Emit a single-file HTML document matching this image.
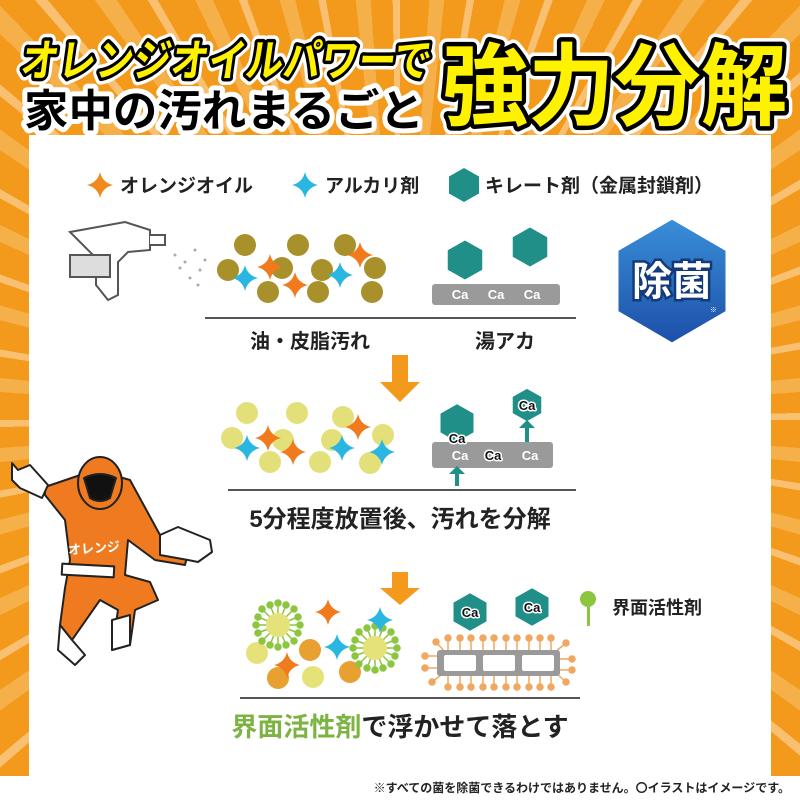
<!DOCTYPE html>
<html><head><meta charset="utf-8"><style>
body{margin:0;width:800px;height:800px;overflow:hidden;font-family:"Liberation Sans","Noto Sans CJK JP",sans-serif}
#bg{position:absolute;left:0;top:0;width:800px;height:800px;background:repeating-conic-gradient(from 0deg at 400px 420px,#f39a1c 0deg 4deg,#f6b04a 4deg 6deg,#f39a1c 6deg 9deg,#f8c070 9deg 10deg)}
svg{position:absolute;left:0;top:0}
text{font-family:"Liberation Sans","Noto Sans CJK JP",sans-serif;font-weight:bold}
</style></head><body>
<div id="bg"></div>
<svg width="800" height="800" viewBox="0 0 800 800">
<defs>
<path id="st" d="M0,-13 Q2.5,-2.5 13,0 Q2.5,2.5 0,13 Q-2.5,2.5 -13,0 Q-2.5,-2.5 0,-13Z"/>
<polygon id="hx" points="0,-17 15,-8.5 15,8.5 0,17 -15,8.5 -15,-8.5"/>
<g id="sf" fill="#8cc63f" stroke="#8cc63f" stroke-width="1.5">
<line x1="0" y1="-22" x2="0" y2="0"/><line x1="22" y1="0" x2="0" y2="0"/><line x1="0" y1="22" x2="0" y2="0"/><line x1="-22" y1="0" x2="0" y2="0"/>
<line x1="16" y1="16" x2="0" y2="0"/><line x1="-16" y1="16" x2="0" y2="0"/><line x1="16" y1="-16" x2="0" y2="0"/><line x1="-16" y1="-16" x2="0" y2="0"/>
<line x1="8" y1="-20" x2="0" y2="0"/><line x1="-8" y1="20" x2="0" y2="0"/><line x1="20" y1="8" x2="0" y2="0"/><line x1="-20" y1="-8" x2="0" y2="0"/>
<line x1="-8" y1="-20" x2="0" y2="0"/><line x1="8" y1="20" x2="0" y2="0"/><line x1="20" y1="-8" x2="0" y2="0"/><line x1="-20" y1="8" x2="0" y2="0"/>
<circle cx="0" cy="-22" r="3"/><circle cx="22" cy="0" r="3"/><circle cx="0" cy="22" r="3"/><circle cx="-22" cy="0" r="3"/>
<circle cx="16" cy="16" r="3"/><circle cx="-16" cy="16" r="3"/><circle cx="16" cy="-16" r="3"/><circle cx="-16" cy="-16" r="3"/>
<circle cx="8" cy="-20" r="3"/><circle cx="-8" cy="20" r="3"/><circle cx="20" cy="8" r="3"/><circle cx="-20" cy="-8" r="3"/>
<circle cx="-8" cy="-20" r="3"/><circle cx="8" cy="20" r="3"/><circle cx="20" cy="-8" r="3"/><circle cx="-20" cy="8" r="3"/>
<circle r="12" fill="#e6e27a" stroke="none"/></g>
<linearGradient id="bl" x1="0" y1="0" x2="0" y2="1"><stop offset="0" stop-color="#3a8fd8"/><stop offset="1" stop-color="#1c4fa8"/></linearGradient>
</defs>
<rect x="29" y="135" width="742" height="642" fill="#fff"/>
<rect x="0" y="776" width="800" height="24" fill="#fff"/>
<g font-size="44" stroke-linejoin="round">
<text x="22" y="76" transform="skewX(-8) translate(8,0)" fill="#000" stroke="#fff" stroke-width="14" textLength="410" lengthAdjust="spacingAndGlyphs">オレンジオイルパワーで</text>
<text x="22" y="76" transform="skewX(-8) translate(8,0)" fill="#fff200" stroke="#000" stroke-width="7" paint-order="stroke" textLength="410" lengthAdjust="spacingAndGlyphs">オレンジオイルパワーで</text>
<text x="24" y="126" fill="#000" stroke="#fff" stroke-width="10" paint-order="stroke" textLength="400" lengthAdjust="spacingAndGlyphs">家中の汚れまるごと</text>
<text x="442" y="118" font-size="90" fill="#000" stroke="#fff" stroke-width="16" textLength="345" lengthAdjust="spacingAndGlyphs">強力分解</text>
<text x="442" y="118" font-size="90" fill="#fff200" stroke="#000" stroke-width="9" paint-order="stroke" textLength="345" lengthAdjust="spacingAndGlyphs">強力分解</text>
</g>
<use href="#st" x="100" y="185" fill="#f08a1c"/>
<text x="120" y="192" font-size="19" fill="#222">オレンジオイル</text>
<use href="#st" x="305" y="185" fill="#29b6e0"/>
<text x="325" y="192" font-size="19" fill="#222">アルカリ剤</text>
<use href="#hx" x="464" y="185" fill="#1f8f88"/>
<text x="485" y="192" font-size="19" fill="#222">キレート剤（金属封鎖剤）</text>
<g stroke="#555" stroke-width="2" fill="#fff">
<path d="M70,232 L125,222 L150,230 L150,250 L128,252 L118,262 L118,295 L108,300 L96,285 L96,258 Z"/>
<rect x="70" y="255" width="40" height="22" fill="#ddd"/>
<path d="M150,235 L165,235 L165,245 L150,245"/>
</g>
<g fill="#aaa"><circle cx="175" cy="255" r="1.5"/><circle cx="185" cy="262" r="1.5"/><circle cx="195" cy="250" r="1.5"/><circle cx="200" cy="270" r="1.5"/><circle cx="190" cy="278" r="1.5"/><circle cx="205" cy="260" r="1.5"/><circle cx="180" cy="268" r="1.5"/><circle cx="198" cy="285" r="1.5"/></g>
<g fill="#a8902a"><circle cx="245" cy="245" r="11"/><circle cx="298" cy="245" r="11"/><circle cx="345" cy="245" r="11"/><circle cx="228" cy="270" r="11"/><circle cx="282" cy="268" r="11"/><circle cx="322" cy="270" r="11"/><circle cx="375" cy="268" r="11"/><circle cx="268" cy="292" r="11"/><circle cx="318" cy="292" r="11"/><circle cx="372" cy="292" r="11"/></g>
<use href="#st" x="270" y="267" fill="#f07a1c"/><use href="#st" x="295" y="285" fill="#f07a1c"/><use href="#st" x="360" y="255" fill="#f07a1c"/>
<use href="#st" x="245" y="278" fill="#29b6e0"/><use href="#st" x="340" y="275" fill="#29b6e0"/>
<rect x="432" y="284" width="128" height="21" rx="3" fill="#9a9a9a"/>
<g font-size="13" fill="#fff" text-anchor="middle"><text x="460" y="299">Ca</text><text x="496" y="299">Ca</text><text x="532" y="299">Ca</text></g>
<use href="#hx" transform="translate(465,260) scale(1.15)" fill="#1f8f88"/>
<use href="#hx" transform="translate(530,247) scale(1.15)" fill="#1f8f88"/>
<line x1="205" y1="318" x2="576" y2="318" stroke="#555" stroke-width="2"/>
<text x="310" y="348" font-size="20" text-anchor="middle" fill="#222">油・皮脂汚れ</text>
<text x="505" y="348" font-size="20" text-anchor="middle" fill="#222">湯アカ</text>
<polygon points="672,218 727,250 727,312 672,344 617,312 617,250" fill="url(#bl)" stroke="#fff" stroke-width="3"/>
<text x="672" y="295" font-size="40" text-anchor="middle" fill="#fff" stroke="#133a7a" stroke-width="5" paint-order="stroke">除菌</text>
<text x="710" y="312" font-size="7" fill="#fff">※</text>
<polygon points="392,355 408,355 408,382 420,382 400,402 380,382 392,382" fill="#f39a1c"/>
<polygon points="392,572 408,572 408,588 420,588 400,605 380,588 392,588" fill="#f39a1c"/>
<g fill="#e3e07a"><circle cx="247" cy="413" r="11"/><circle cx="297" cy="413" r="11"/><circle cx="343" cy="417" r="11"/><circle cx="232" cy="438" r="11"/><circle cx="283" cy="440" r="11"/><circle cx="332" cy="440" r="11"/><circle cx="383" cy="435" r="11"/><circle cx="270" cy="462" r="11"/><circle cx="320" cy="462" r="11"/><circle cx="370" cy="463" r="11"/></g>
<use href="#st" x="268" y="438" fill="#f07a1c"/><use href="#st" x="293" y="452" fill="#f07a1c"/><use href="#st" x="358" y="427" fill="#f07a1c"/>
<use href="#st" x="247" y="448" fill="#29b6e0"/><use href="#st" x="342" y="448" fill="#29b6e0"/><use href="#st" x="382" y="452" fill="#29b6e0"/>
<rect x="432" y="442" width="121" height="26" rx="3" fill="#9a9a9a"/>
<use href="#hx" transform="translate(457,423) scale(1.1)" fill="#1f8f88"/>
<use href="#hx" transform="translate(527,405) scale(0.95)" fill="#1f8f88"/>
<g fill="#1f8f88"><rect x="525" y="425" width="4" height="17"/><polygon points="519,428 535,428 527,420"/><rect x="455" y="470" width="4" height="16"/><polygon points="449,474 465,474 457,466"/></g>
<g font-size="13" text-anchor="middle" stroke-linejoin="round">
<text x="457" y="443" fill="#111" stroke="#fff" stroke-width="3" paint-order="stroke">Ca</text>
<text x="460" y="460" fill="#fff">Ca</text>
<text x="493" y="460" fill="#111" stroke="#fff" stroke-width="3" paint-order="stroke">Ca</text>
<text x="530" y="460" fill="#fff">Ca</text>
<text x="527" y="410" fill="#111" stroke="#fff" stroke-width="3" paint-order="stroke">Ca</text>
</g>
<line x1="228" y1="490" x2="576" y2="490" stroke="#555" stroke-width="2"/>
<text x="400" y="527" font-size="24" text-anchor="middle" fill="#222">5分程度放置後、汚れを分解</text>
<g fill="#e8a030"><circle cx="310" cy="650" r="11"/><circle cx="278" cy="678" r="11"/><circle cx="350" cy="672" r="11"/></g>
<g fill="#e6e27a"><circle cx="257" cy="653" r="11"/><circle cx="313" cy="677" r="11"/></g>
<use href="#sf" x="278" y="625"/><use href="#sf" x="375" y="648"/>
<use href="#st" x="328" y="612" fill="#f07a1c"/><use href="#st" x="287" y="665" fill="#f07a1c"/>
<use href="#st" x="337" y="647" fill="#29b6e0"/><use href="#st" x="380" y="620" fill="#29b6e0"/>
<g stroke="#f0a860" stroke-width="1.5" fill="#f0a860">
<line x1="448" y1="638" x2="448" y2="687"/><line x1="460" y1="638" x2="460" y2="687"/><line x1="471" y1="638" x2="471" y2="687"/><line x1="483" y1="638" x2="483" y2="687"/><line x1="494" y1="638" x2="494" y2="687"/><line x1="506" y1="638" x2="506" y2="687"/><line x1="517" y1="638" x2="517" y2="687"/><line x1="529" y1="638" x2="529" y2="687"/><line x1="540" y1="638" x2="540" y2="687"/><line x1="551" y1="638" x2="551" y2="687"/>
<line x1="425" y1="656" x2="445" y2="656"/><line x1="425" y1="668" x2="445" y2="668"/><line x1="552" y1="659" x2="572" y2="659"/><line x1="552" y1="670" x2="572" y2="670"/>
<line x1="432" y1="682" x2="445" y2="672"/><line x1="436" y1="642" x2="445" y2="652"/><line x1="566" y1="643" x2="555" y2="652"/><line x1="566" y1="682" x2="555" y2="672"/>
<circle cx="448" cy="638" r="3"/><circle cx="460" cy="638" r="3"/><circle cx="471" cy="638" r="3"/><circle cx="483" cy="638" r="3"/><circle cx="494" cy="638" r="3"/><circle cx="506" cy="638" r="3"/><circle cx="517" cy="638" r="3"/><circle cx="529" cy="638" r="3"/><circle cx="540" cy="638" r="3"/><circle cx="551" cy="638" r="3"/>
<circle cx="448" cy="687" r="3"/><circle cx="460" cy="687" r="3"/><circle cx="471" cy="687" r="3"/><circle cx="483" cy="687" r="3"/><circle cx="494" cy="687" r="3"/><circle cx="506" cy="687" r="3"/><circle cx="517" cy="687" r="3"/><circle cx="529" cy="687" r="3"/><circle cx="540" cy="687" r="3"/><circle cx="551" cy="687" r="3"/>
<circle cx="425" cy="656" r="3"/><circle cx="425" cy="668" r="3"/><circle cx="572" cy="659" r="3"/><circle cx="572" cy="670" r="3"/><circle cx="432" cy="682" r="3"/><circle cx="436" cy="642" r="3"/><circle cx="566" cy="643" r="3"/><circle cx="566" cy="682" r="3"/>
</g>
<rect x="437" y="650" width="123" height="26" rx="3" fill="#9a9a9a"/>
<g fill="#fff"><rect x="444" y="655" width="32" height="16" rx="2"/><rect x="483" y="655" width="32" height="16" rx="2"/><rect x="522" y="655" width="32" height="16" rx="2"/></g>
<use href="#hx" transform="translate(470,612) scale(1.1)" fill="#1f8f88"/>
<use href="#hx" transform="translate(532,607) scale(1.1)" fill="#1f8f88"/>
<g font-size="13" text-anchor="middle"><text x="470" y="617" fill="#111" stroke="#fff" stroke-width="3" paint-order="stroke">Ca</text><text x="532" y="612" fill="#111" stroke="#fff" stroke-width="3" paint-order="stroke">Ca</text></g>
<rect x="587" y="600" width="3" height="26" fill="#8cc63f"/><circle cx="588" cy="599" r="8" fill="#8cc63f"/>
<text x="612" y="614" font-size="18" fill="#222">界面活性剤</text>
<line x1="240" y1="698" x2="580" y2="698" stroke="#555" stroke-width="2"/>
<text x="400" y="736" font-size="26" text-anchor="middle" fill="#222"><tspan fill="#7cb342">界面活性剤</tspan>で浮かせて落とす</text>
<text x="790" y="792" font-size="12" text-anchor="end" fill="#222">※すべての菌を除菌できるわけではありません。〇イラストはイメージです。</text>
<g stroke="#222" stroke-width="2" stroke-linejoin="round">
<path d="M45,487 L95,470 L130,480 L160,535 L190,545 L185,565 L155,560 L128,540 L125,575 L150,582 L158,600 L135,610 L130,645 L112,650 L118,610 L100,600 L72,640 L60,625 L65,588 L70,560 L65,520 L45,495 Z" fill="#f07a20"/>
<path d="M12,463 L18,470 L30,465 L48,485 L42,498 L20,488 L12,480 Z" fill="#fff"/>
<path d="M160,535 L178,527 L210,540 L212,552 L198,562 L188,560 L160,555 Z" fill="#fff"/>
<rect x="62" y="565" width="52" height="11" fill="#fff" transform="rotate(3 88 570)"/>
<path d="M60,625 L72,640 L85,655 L75,665 L58,650 Z" fill="#fff"/>
<path d="M112,620 L130,615 L130,645 L112,650 Z" fill="#fff"/>
<ellipse cx="100" cy="483" rx="22" ry="26" fill="#f07a20"/>
<path d="M84,478 Q100,470 116,478 L110,498 Q100,504 90,498 Z" fill="#111"/>
</g>
<text x="68" y="553" font-size="13" fill="#fff" transform="rotate(-4 90 548)">オレンジ</text>
</svg>
</body></html>
